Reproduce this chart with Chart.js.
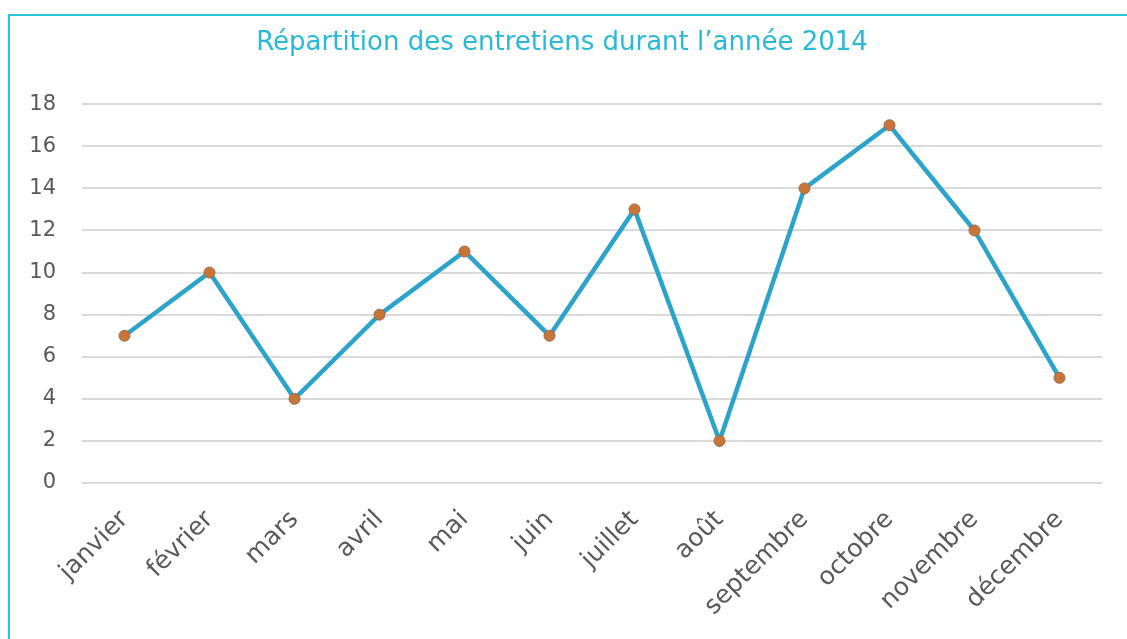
<!DOCTYPE html>
<html>
<head>
<meta charset="utf-8">
<script src="https://cdn.jsdelivr.net/npm/chart.js@4/dist/chart.umd.min.js"></script>
<style>
    body { margin: 0; background: #fff; overflow: hidden; }
    #wrap { position: relative; width: 1127px; height: 639px; }
    #frame { position: absolute; left: 8px; top: 14px; width: 1200px; height: 700px;
        border-top: 2px solid #2cc3dc; border-left: 2px solid #2cc3dc; }
    canvas { position: absolute; left: 0; top: 0; }
</style>
</head>
<body>
<div id="wrap">
    <div id="frame"></div>
    <canvas id="chart" width="1127" height="639"></canvas>
</div>
<script>
var months = ["janvier", "février", "mars", "avril", "mai", "juin", "juillet", "août", "septembre", "octobre", "novembre", "décembre"];
var interviews = [7, 10, 4, 8, 11, 7, 13, 2, 14, 17, 12, 5];
var titleText = "Répartition des entretiens durant l\u2019année 2014";

var ctx = document.getElementById("chart").getContext("2d");
var myChart = new Chart(ctx, {
    type: 'line',
    data: {
        labels: months,
        datasets: [{
            data: interviews,
            borderColor: "#2ba3cb",
            borderWidth: 4.5,
            pointBackgroundColor: "#c87538",
            pointBorderColor: "#9a6a4a",
            pointBorderWidth: 1,
            pointRadius: 5.5,
            tension: 0
        }]
    },
    options: {
        responsive: false,
        animation: false,
        layout: { padding: { left: 22, right: 25, top: 0, bottom: 0 } },
        plugins: {
            legend: { display: false },
            tooltip: { enabled: false },
            title: {
                display: true,
                text: titleText,
                color: "#29b8d8",
                font: { family: "DejaVu Sans", size: 26, weight: 'normal' },
                padding: { top: 28, bottom: 45 }
            }
        },
        scales: {
            x: {
                offset: true,
                grid: { display: false },
                border: { display: false },
                ticks: {
                    color: "#595959",
                    font: { family: "DejaVu Sans", size: 25 },
                    maxRotation: 45,
                    minRotation: 45,
                    autoSkip: false,
                    padding: 14
                },
                afterFit: function (scale) { scale.height = 156; }
            },
            y: {
                min: 0,
                max: 18,
                ticks: {
                    stepSize: 2,
                    color: "#595959",
                    font: { family: "DejaVu Sans", size: 21 },
                    padding: 26
                },
                grid: { color: "#d9d9d9", lineWidth: 2, drawTicks: false },
                border: { display: false },
                afterFit: function (scale) { scale.width = 60; }
            }
        }
    }
});
</script>
</body>
</html>
